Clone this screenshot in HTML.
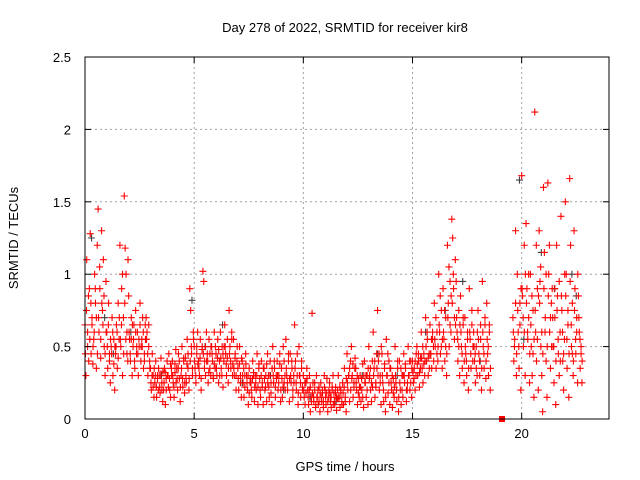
<!DOCTYPE html>
<html><head><meta charset="utf-8"><style>
body{margin:0;background:#fff;}
svg{display:block;font-family:"Liberation Sans",sans-serif;}
</style></head><body>
<svg id="chart" width="640" height="480">
<text x="345" y="32" text-anchor="middle" font-size="13">Day 278 of 2022, SRMTID for receiver kir8</text>
<text x="345" y="471" text-anchor="middle" font-size="13">GPS time / hours</text>
<text transform="translate(18,238) rotate(-90)" text-anchor="middle" font-size="13">SRMTID / TECUs</text>
<g id="grid"></g><g id="pts"></g><g id="axes"></g>
</svg>
<script>
const xTicks=[0,5,10,15,20];
const yTicks=[0,0.5,1,1.5,2,2.5];
const yTickLabels=["0","0.5","1","1.5","2","2.5"];
const binHours=0.2;
const redBins=[
[.65,.3,1.1,.5,.85],[.9,1.28,.45,.7,.38],[.55,1.0,.8,.35,1.2],[1.45,.6,.9,.42,1.3],[.75,1.1,.5,.3,.95],
[.6,.35,.8,.45,.25],[.5,.7,.3,.55,.2],[.45,.65,.35,.8,.55],[1.2,.5,.9,.3,.7],[1.54,1.18,1.0,.6,.4],
[.85,.55,.4,.7,.3],[.5,.65,.35,.75,.45],[.6,.3,.5,.8,.4],[.55,.7,.35,.45,.65],[.7,.6,.3,.5,.4],
[.35,.2,.45,.3,.15],[.25,.4,.15,.3,.2],[.3,.18,.42,.25,.12],[.2,.35,.1,.28,.4],[.3,.45,.2,.15,.35],
[.4,.25,.15,.32,.48],[.35,.2,.45,.28,.12],[.3,.5,.22,.4,.18],[.42,.25,.55,.35,.2],[.9,.75,.45,.3,.6],
[.5,.35,.25,.45,.6],[.4,.3,.55,.2,.48],[1.02,.95,.4,.3,.6],[.45,.25,.55,.35,.3],[.5,.4,.28,.6,.35],
[.45,.3,.55,.25,.4],[.6,.35,.5,.22,.4],[.65,.45,.3,.55,.25],[.75,.5,.35,.6,.3],[.55,.3,.45,.2,.4],
[.35,.2,.5,.3,.15],[.4,.25,.15,.3,.45],[.3,.2,.1,.35,.25],[.25,.15,.4,.3,.12],[.3,.2,.45,.1,.35],
[.28,.15,.4,.22,.1],[.35,.2,.3,.12,.45],[.3,.15,.4,.25,.1],[.5,.25,.35,.15,.3],[.4,.2,.3,.45,.12],
[.35,.15,.5,.25,.3],[.55,.3,.2,.4,.12],[.45,.25,.35,.15,.3],[.65,.4,.2,.3,.1],[.5,.3,.15,.35,.22],
[.3,.15,.1,.25,.35],[.2,.1,.3,.05,.15],[.73,.25,.12,.2,.08],[.3,.15,.1,.22,.05],[.25,.12,.18,.08,.3],
[.2,.1,.28,.05,.15],[.25,.12,.08,.2,.3],[.18,.1,.22,.06,.14],[.3,.15,.08,.2,.12],[.25,.1,.35,.15,.05],
[.45,.2,.3,.12,.4],[.5,.3,.15,.25,.35],[.35,.2,.1,.28,.15],[.3,.12,.2,.38,.08],[.4,.25,.15,.3,.1],
[.5,.3,.2,.12,.4],[.6,.35,.15,.25,.45],[.75,.4,.2,.3,.1],[.45,.25,.12,.35,.05],[.55,.3,.18,.4,.1],
[.35,.2,.08,.28,.15],[.5,.25,.12,.35,.05],[.4,.2,.1,.3,.15],[.45,.25,.35,.12,.2],[.5,.3,.2,.4,.15],
[.4,.25,.35,.2,.3],[.5,.3,.4,.22,.35],[.6,.35,.25,.45,.3],[.7,.4,.55,.3,.45],[.65,.45,.35,.55,.5],
[.8,.5,.35,.6,.4],[1.0,.6,.45,.75,.35],[.9,.55,.4,.7,.3],[1.2,.8,.5,.95,.6],[1.38,1.25,.9,.55,1.1],
[.95,.6,.4,.75,.3],[.85,.5,.35,.65,.25],[.7,.45,.3,.6,.2],[.9,.55,.35,.65,.4],[.6,.4,.25,.5,.3],
[.75,.45,.3,.55,.2],[.95,.5,.35,.65,.28],[.8,.45,.3,.6,.2],[],[],[],[],[],
[.7,.4,.55,1.3,.3],[1.0,.6,.35,.8,.2],[1.68,.85,.5,1.2,.3],[1.35,.9,.55,.7,.25],[1.0,.5,.3,.75,.15],
[2.12,.6,.4,.9,.2],[1.3,.95,.5,.3,.05],[1.6,1.15,.7,.4,.15],[1.63,1.0,.6,.35,.8],[.9,.5,.25,.7,.1],
[1.2,.85,.45,.3,.6],[1.4,.75,.4,.2,.55],[1.5,1.0,.35,.65,.15],[1.66,1.2,.5,.8,.3],[1.3,.9,.45,.7,.25],
[.85,.6,.35,.5,.25]];
const redBins2=[
[.45,.75,.6,.4],[.55,.8,.65,.5],[.6,.9,.7,.45],[.7,1.05,.55,.8],[.65,.85,.45,.6],
[.5,.65,.4,.55],[.45,.6,.38,.5],[.5,.6,.42,.7],[.55,.65,1.0,.45],[.8,.55,.45,1.1],
[.6,.45,.55,.65],[.55,.4,.6,.5],[.45,.55,.65,.5],[.5,.6,.4,.55],[.55,.45,.65,.35],
[.25,.3,.22,.35],[.3,.22,.28,.35],[.22,.3,.2,.33],[.25,.32,.2,.3],[.22,.28,.38,.3],
[.3,.22,.38,.25],[.28,.35,.4,.22],[.35,.28,.42,.25],[.3,.38,.45,.28],[.4,.5,.35,.55],
[.4,.3,.5,.38],[.35,.42,.28,.5],[.45,.35,.5,.4],[.4,.32,.45,.5],[.45,.3,.38,.5],
[.35,.42,.48,.3],[.42,.3,.45,.5],[.5,.38,.42,.35],[.45,.4,.55,.38],[.35,.42,.3,.5],
[.28,.38,.25,.42],[.3,.35,.22,.38],[.25,.3,.18,.28],[.2,.28,.32,.22],[.25,.3,.22,.38],
[.2,.3,.25,.35],[.28,.22,.38,.25],[.22,.3,.18,.35],[.3,.4,.22,.28],[.3,.25,.38,.2],
[.28,.22,.4,.2],[.35,.25,.45,.28],[.3,.4,.2,.25],[.35,.25,.45,.18],[.3,.25,.4,.2],
[.2,.25,.18,.28],[.15,.2,.22,.12],[.18,.15,.25,.1],[.15,.2,.12,.18],[.15,.2,.12,.22],
[.15,.18,.12,.2],[.18,.15,.22,.1],[.12,.18,.15,.2],[.15,.22,.18,.1],[.18,.22,.12,.28],
[.25,.3,.35,.2],[.28,.38,.22,.42],[.25,.3,.18,.22],[.22,.28,.15,.3],[.25,.3,.2,.35],
[.28,.35,.25,.22],[.3,.4,.22,.35],[.3,.45,.25,.5],[.3,.2,.38,.15],[.3,.45,.25,.35],
[.25,.3,.18,.22],[.3,.2,.4,.15],[.25,.35,.2,.3],[.3,.38,.2,.25],[.3,.4,.25,.35],
[.32,.28,.4,.45],[.38,.45,.32,.42],[.42,.5,.38,.4],[.5,.6,.42,.35],[.45,.55,.6,.4],
[.55,.7,.45,.5],[.65,.85,.5,.55],[.6,.75,.5,.45],[.7,1.05,.65,.85],[.8,1.0,.7,.65],
[.7,.55,.5,.65],[.6,.45,.7,.4],[.5,.4,.55,.35],[.6,.45,.75,.5],[.5,.45,.35,.6],
[.55,.4,.65,.35],[.6,.45,.7,.4],[.55,.5,.65,.35],[],[],[],[],[],
[.6,.5,.8,.45],[.75,.5,.65,.9],[.9,.7,.6,1.0],[.8,.6,1.0,.45],[.65,.85,.45,.55],
[.75,1.2,.55,.85],[.8,1.05,.6,.45],[.9,.6,1.0,.5],[.85,1.2,.7,.5],[.7,.5,.9,.4],
[.75,.55,.95,.4],[.85,.6,.45,1.0],[.85,.55,.75,.45],[.95,.65,.45,.4],[.75,.55,.6,1.0],
[.7,.55,.45,.4]];
const grayT=[0.3,0.9,1.3,2.1,3.5,4.9,5.5,6.3,7.2,8.5,9.1,10.3,11.5,12.7,13.4,14.3,15.6,16.5,17.3,18.1,19.9,20.1,20.9,21.5,22.3,22.5];
const grayV=[1.25,0.7,0.45,0.6,0.3,0.82,0.5,0.65,0.25,0.3,0.2,0.15,0.12,0.3,0.45,0.3,0.6,0.75,0.95,0.4,1.65,0.55,1.15,0.9,1.0,0.85];
const squareT=[19.1], squareV=[0];
const X0=85,X1=609,Y0=419,Y1=57,XMAX=24,YMAX=2.5;
const xs=t=>X0+t/XMAX*(X1-X0), ys=v=>Y0-v/YMAX*(Y0-Y1);
const NS="http://www.w3.org/2000/svg";
function mk(tag,at,parent){const e=document.createElementNS(NS,tag);for(const k in at)e.setAttribute(k,at[k]);document.getElementById(parent).appendChild(e);return e;}
xTicks.forEach(t=>{
 const g=mk("line",{x1:xs(t),x2:xs(t),y1:Y0,y2:Y1,stroke:"#a0a0a0","stroke-dasharray":"2,3"},"grid");
 
 
 const tk=mk("text",{x:xs(t),y:Y0+19,"text-anchor":"middle","font-size":"13"},"axes");tk.textContent=t;
 
 
 mk("line",{x1:xs(t),x2:xs(t),y1:Y0,y2:Y0-6,stroke:"#000"},"axes");
 mk("line",{x1:xs(t),x2:xs(t),y1:Y1,y2:Y1+6,stroke:"#000"},"axes");
});
yTicks.forEach((v,i)=>{
 const g=mk("line",{x1:X0,x2:X1,y1:ys(v),y2:ys(v),stroke:"#a0a0a0","stroke-dasharray":"2,3"},"grid");
 
 
 const tk=mk("text",{x:X0-14,y:ys(v)+5,"text-anchor":"end","font-size":"13"},"axes");tk.textContent=yTickLabels[i];
 
 
 mk("line",{x1:X0,x2:X0+6,y1:ys(v),y2:ys(v),stroke:"#000"},"axes");
 mk("line",{x1:X1,x2:X1-6,y1:ys(v),y2:ys(v),stroke:"#000"},"axes");
});
const fr=mk("rect",{x:X0,y:Y1,width:X1-X0,height:Y0-Y1,fill:"none",stroke:"#000"},"axes");


function plus(x,y,c,name){
 const p=mk("path",{d:`M${x-3.5},${y}h7M${x},${y-3.5}v7`,stroke:c,"stroke-width":"1.1",fill:"none"},"pts");
 
 
}
grayT.forEach((t,i)=>plus(xs(t),ys(grayV[i]),"#404040","gray-point"));
redBins.forEach((vals,i)=>vals.forEach((v,j)=>plus(xs(i*binHours+j*0.04),ys(v),"#ff0000","red-point")));
redBins2.forEach((vals,i)=>vals.forEach((v,j)=>plus(xs(i*binHours+0.02+j*0.05),ys(v),"#ff0000","red-point")));
squareT.forEach((t,i)=>{
 const s=mk("rect",{x:xs(t)-3,y:ys(squareV[i])-3,width:6,height:6,fill:"#ff0000"},"pts");
 
 
});
</script>
</body></html>
